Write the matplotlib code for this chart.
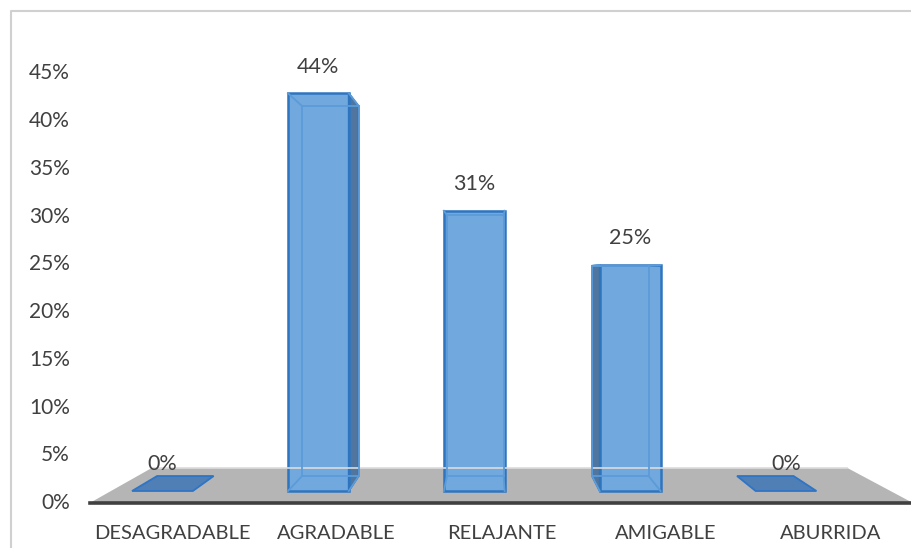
import numpy as np
import matplotlib.pyplot as plt
from matplotlib.patches import Polygon

# datos
categorias = ["DESAGRADABLE", "AGRADABLE", "RELAJANTE", "AMIGABLE", "ABURRIDA"]
porcentajes = [0, 44, 31, 25, 0]
etiquetas = ["0%", "44%", "31%", "25%", "0%"]
ticks_y = [0, 5, 10, 15, 20, 25, 30, 35, 40, 45]

plt.rcParams['font.family'] = ['Lato', 'DejaVu Sans']

# perspectiva: plano frontal de las barras = escala 1
vx, vy = 2.1, 23.67
s_frente, s_fondo = 1.0, 0.93
s_piso_f, s_piso_b = 1.056, 0.8925
ancho = 0.39
desp = 0.17
gris_txt = '#404040'

def proy(x, y, s):
    return vx + (x - vx) * s, vy + (y - vy) * s

fig = plt.figure(figsize=(9.12, 5.48), dpi=100)
ax = fig.add_axes([0, 0, 1, 1])
ax.set_xlim(-1.042, 4.808)
ax.set_ylim(-6.305, 54.31)
ax.axis('off')

# borde del grafico
ax.plot([0.012, 0.012, 1.0], [0.0, 0.98, 0.98], transform=ax.transAxes,
        color='#d0d0d0', lw=1.5, clip_on=False)

# piso
xa, xb = -0.5 + desp, 4.5 + desp
piso = [proy(xa, 0, s_piso_f), proy(xb, 0, s_piso_f),
        proy(xb, 0, s_piso_b), proy(xa, 0, s_piso_b)]
ax.add_patch(Polygon(piso, closed=True, facecolor='#b5b5b5', edgecolor='none'))
ax.plot([piso[3][0], piso[2][0]], [piso[3][1], piso[2][1]], color='#dcdcdc', lw=1.2)
ax.plot([piso[0][0], piso[1][0]], [piso[0][1], piso[1][1]], color=gris_txt, lw=2.6)

# barras
for i, v in enumerate(porcentajes):
    x0, x1 = i - ancho / 2, i + ancho / 2
    esq = [(x0, 0), (x1, 0), (x1, v), (x0, v)]
    F = [proy(x, y, s_frente) for x, y in esq]
    B = [proy(x, y, s_fondo) for x, y in esq]
    if v == 0:
        ax.add_patch(Polygon([F[0], F[1], B[1], B[0]], closed=True,
                             facecolor='#4f7fb5', edgecolor='#2e75c6', lw=1.3))
    else:
        caras = [B, [F[0], F[1], B[1], B[0]], [F[3], F[2], B[2], B[3]],
                 [F[0], B[0], B[3], F[3]], [F[1], B[1], B[2], F[2]], F]
        for c in caras:
            ax.add_patch(Polygon(c, closed=True, facecolor='#71a8de', edgecolor='none'))
        if x1 < vx:
            lado = [F[1], B[1], B[2], F[2]]
        elif x0 > vx:
            lado = [F[0], B[0], B[3], F[3]]
        else:
            lado = None
        if lado is not None:
            ax.add_patch(Polygon(lado, closed=True, facecolor='#50759f',
                                 edgecolor='#2e6fb5', lw=1.3))
        # aristas interiores
        for k in range(4):
            ax.plot([B[k][0], B[(k + 1) % 4][0]], [B[k][1], B[(k + 1) % 4][1]],
                    color='#5b9bd8', lw=1.3)
            ax.plot([F[k][0], B[k][0]], [F[k][1], B[k][1]], color='#5b9bd8', lw=1.3)
        ax.add_patch(Polygon(F, closed=True, facecolor='none', edgecolor='#2e75c0', lw=1.8))
    xt, yt = proy(i, v, s_frente)
    ax.text(xt, yt + 2.95, etiquetas[i], ha='center', va='center',
            fontsize=15.5, color=gris_txt)

# etiquetas de categorias
for i, c in enumerate(categorias):
    xc, _ = proy(i + desp, 0, s_piso_f)
    ax.text(xc, -4.65, c, ha='center', va='center', fontsize=14.5, color=gris_txt)

# eje de valores
for t in ticks_y:
    _, yt = proy(0, t, s_piso_f)
    ax.text(-0.595, yt, f"{t}%", ha='right', va='center', fontsize=15, color=gris_txt)

fig.savefig('out.png', dpi=100)
